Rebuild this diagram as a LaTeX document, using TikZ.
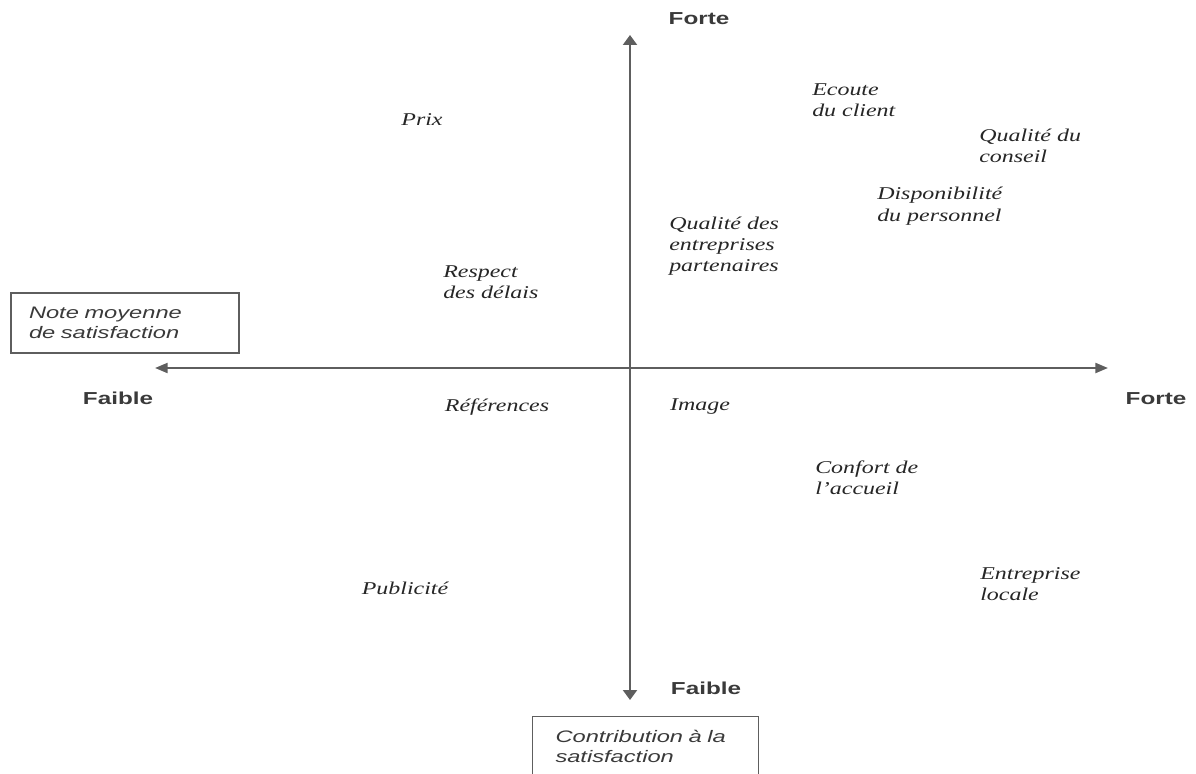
\documentclass[tikz,border=0pt]{standalone}
\usepackage{fontspec}
\usepackage{tikz}
\usetikzlibrary{arrows.meta}
\newfontfamily\labelfont[FakeStretch=1.33]{Liberation Serif}
\newfontfamily\axisfont[FakeStretch=1.40]{Liberation Sans}
\newfontfamily\boxfont[FakeStretch=1.42]{Liberation Sans}
\definecolor{inkgray}{HTML}{262626}
\definecolor{axisgray}{HTML}{5E5E5E}
\definecolor{textgray}{HTML}{3A3A3A}
\tikzset{
    critere/.style = {inner sep=0pt, align=left, text=inkgray, font={\labelfont\itshape\fontsize{13.5}{16}\selectfont}},
    extreme/.style = {inner sep=0pt, text=textgray, font={\axisfont\bfseries\fontsize{13}{15}\selectfont}},
    legende/.style = {rectangle, draw=axisgray, line width=0.8pt, align=left, inner ysep=0pt, minimum height=45pt, text=textgray, font={\boxfont\itshape\fontsize{12.5}{15}\selectfont}},
    haxe/.style = {{Triangle[length=9.5pt,width=7.5pt]}-{Triangle[length=9.5pt,width=7.5pt]}, line width=1.6pt, draw=axisgray, fill=axisgray},
    vaxe/.style = {{Triangle[length=7.5pt,width=10.5pt]}-{Triangle[length=7.5pt,width=10.5pt]}, line width=1.6pt, draw=axisgray, fill=axisgray}
}
\begin{document}
\begin{tikzpicture}[x=0.75pt, y=-0.75pt]
\useasboundingbox (0,0) rectangle (1196,774);
%
\coordinate (haut) at (630, 35);
\coordinate (bas) at (630, 700);
\coordinate (gauche) at (155, 368);
\coordinate (droite) at (1108, 368);
%
\draw[vaxe] (bas) -- (haut);
\draw[haxe] (gauche) -- (droite);
%
\node[extreme] at (699, 19) (fhaut) {Forte};
\node[extreme] at (706, 688) (fbas) {Faible};
\node[extreme] at (118, 398) (fgauche) {Faible};
\node[extreme] at (1156, 399) (fdroite) {Forte};
%
\node[legende, inner xsep=13.5pt, text width=144pt] at (125, 323) (note) {Note moyenne\\de satisfaction};
\node[legende, inner xsep=17pt, text width=135pt] at (645.5, 746.5) (contrib) {Contribution à la\\satisfaction};
%
\node[critere] at (422, 120) (prix) {Prix};
\node[critere, anchor=west] at (812, 100) (ecoute) {Ecoute\\du client};
\node[critere, anchor=west] at (979, 146) (conseil) {Qualité du\\conseil};
\node[critere, anchor=west] at (877, 206) (dispo) {Disponibilité\\du personnel};
\node[critere, anchor=west] at (669, 246) (partenaires) {Qualité des\\entreprises\\partenaires};
\node[critere, anchor=west] at (443, 282) (delais) {Respect\\des délais};
\node[critere] at (497, 407) (references) {Références};
\node[critere] at (700, 407) (image) {Image};
\node[critere, anchor=west] at (815, 478) (accueil) {Confort de\\l’accueil};
\node[critere, anchor=west] at (980, 584) (locale) {Entreprise\\locale};
\node[critere] at (405, 588) (pub) {Publicité};

\end{tikzpicture}
\end{document}
